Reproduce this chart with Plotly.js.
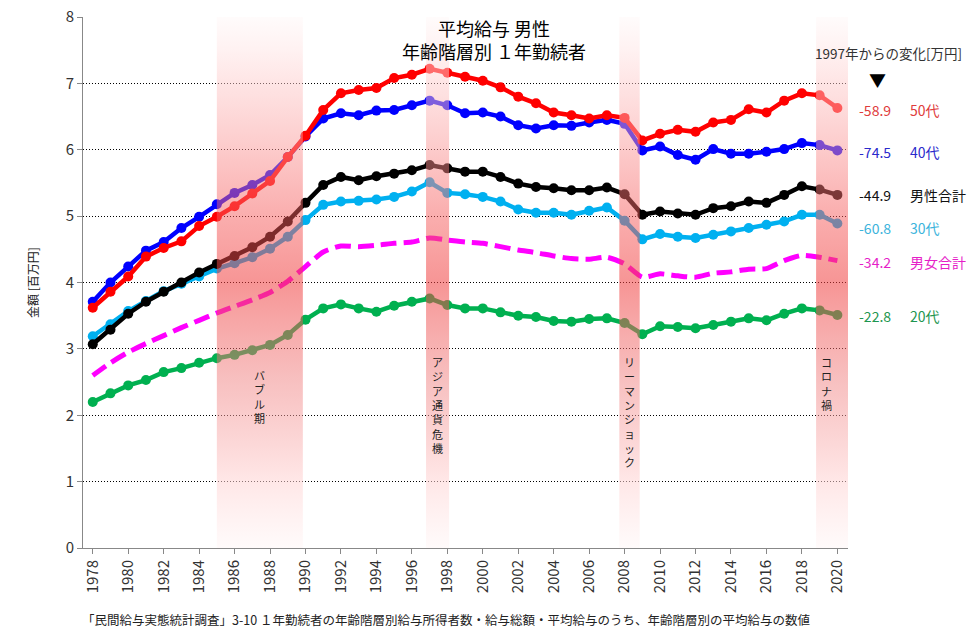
<!DOCTYPE html>
<html>
<head>
<meta charset="utf-8">
<script src="https://cdn.plot.ly/plotly-3.0.1.min.js"></script>
<style>
  html, body { margin: 0; padding: 0; background: #ffffff; }
  #chart { width: 978px; height: 639px; }
</style>
</head>
<body>
<div id="chart"></div>
<script>
// ---- data ----
const years = [1978,1979,1980,1981,1982,1983,1984,1985,1986,1987,1988,1989,1990,
  1991,1992,1993,1994,1995,1996,1997,1998,1999,2000,2001,2002,2003,2004,2005,
  2006,2007,2008,2009,2010,2011,2012,2013,2014,2015,2016,2017,2018,2019,2020];

// 金額 [百万円]
const age50 = [3.62,3.86,4.09,4.39,4.52,4.62,4.85,4.99,5.15,5.34,5.53,5.89,6.21,
  6.60,6.85,6.90,6.93,7.08,7.13,7.22,7.16,7.10,7.04,6.94,6.80,6.70,6.56,6.52,
  6.47,6.52,6.48,6.14,6.24,6.30,6.27,6.41,6.45,6.61,6.56,6.74,6.85,6.82,6.63];
const age40 = [3.71,4.00,4.24,4.48,4.61,4.82,4.99,5.18,5.35,5.47,5.62,5.89,6.20,
  6.47,6.55,6.52,6.59,6.60,6.67,6.74,6.67,6.55,6.56,6.50,6.37,6.32,6.37,6.36,
  6.41,6.45,6.39,5.99,6.05,5.92,5.85,6.01,5.94,5.94,5.97,6.01,6.10,6.07,5.99];
const maleTotal = [3.07,3.29,3.53,3.71,3.86,4.00,4.15,4.28,4.40,4.53,4.69,4.92,5.20,
  5.47,5.59,5.54,5.60,5.64,5.69,5.77,5.72,5.67,5.67,5.59,5.49,5.44,5.42,5.39,
  5.39,5.43,5.33,5.02,5.07,5.04,5.02,5.12,5.15,5.22,5.20,5.32,5.45,5.40,5.32];
const age30 = [3.19,3.37,3.57,3.72,3.87,3.98,4.09,4.21,4.29,4.38,4.51,4.69,4.94,
  5.17,5.22,5.23,5.25,5.29,5.37,5.51,5.35,5.33,5.29,5.22,5.10,5.05,5.05,5.02,
  5.08,5.13,4.93,4.65,4.73,4.69,4.67,4.72,4.77,4.82,4.87,4.92,5.02,5.02,4.89];
const allTotal = [2.60,2.79,2.95,3.08,3.20,3.32,3.43,3.54,3.64,3.74,3.85,4.02,4.24,
  4.46,4.55,4.54,4.56,4.59,4.61,4.67,4.64,4.61,4.59,4.54,4.49,4.45,4.40,4.36,
  4.35,4.38,4.28,4.08,4.13,4.10,4.08,4.14,4.16,4.20,4.21,4.33,4.41,4.38,4.33];
const age20 = [2.20,2.33,2.45,2.53,2.65,2.71,2.79,2.86,2.91,2.98,3.06,3.21,3.44,
  3.61,3.67,3.61,3.56,3.65,3.71,3.76,3.66,3.61,3.61,3.55,3.50,3.48,3.42,3.41,
  3.45,3.46,3.39,3.22,3.34,3.33,3.31,3.36,3.41,3.46,3.43,3.53,3.61,3.58,3.51];

const seriesNames   = ['50代','40代','男性合計','30代','男女合計','20代'];
const changeLabels  = ['-58.9','-74.5','-44.9','-60.8','-34.2','-22.8'];

const events     = ['バブル期','アジア通貨危機','リーマンショック','コロナ禍'];
const bandStart  = [1985, 1996.8, 2007.7, 2018.8];
const bandEnd    = [1989.85, 1998.1, 2008.85, 2020.6];

const titleText   = '平均給与 男性<br>年齢階層別 １年勤続者';
const yTitleText  = '金額 [百万円]';
const changeHead  = '1997年からの変化[万円]';
const captionText = '「民間給与実態統計調査」3-10 １年勤続者の年齢階層別給与所得者数・給与総額・平均給与のうち、年齢階層別の平均給与の数値';

// ---- styling ----
const FONT = '"Noto Sans CJK JP", "Noto Sans", sans-serif';
const seriesData   = [age50, age40, maleTotal, age30, allTotal, age20];
const lineColors   = ['rgb(255,0,0)','rgb(0,0,255)','rgb(0,0,0)','rgb(0,176,240)','rgb(255,0,255)','rgb(0,176,80)'];
const labelColors  = ['#e03c3c','#2a2acc','#111111','#3cb4dc','#e61ec8','#1e9650'];
const labelShift   = [-2, -2, 0, -5, -1, -1];
const drawOrder    = [5, 4, 3, 2, 1, 0]; // green, magenta, cyan, black, blue, red

const traces = [];
drawOrder.forEach(function (i) {
  const dashed = (i === 4);
  traces.push({
    type: 'scatter',
    x: years,
    y: seriesData[i],
    name: seriesNames[i],
    mode: dashed ? 'lines' : 'lines+markers',
    line: dashed ? { color: lineColors[i], width: 5, dash: '16px,7px', shape: 'spline', smoothing: 0.6 }
                 : { color: lineColors[i], width: 4.5 },
    marker: { color: lineColors[i], size: 10 },
    hoverinfo: 'skip',
    showlegend: false
  });
});

// shaded event bands, drawn above the lines (semi-transparent vertical gradient)
// stops given by y value (axis units); the gradient runs from the top of the band
const bandStops = [
  [8.0, 'rgba(255,246,246,0.5)'],
  [7.0, 'rgba(255,212,212,0.55)'],
  [5.5, 'rgba(240,130,130,0.5)'],
  [4.0, 'rgba(240,62,62,0.55)'],
  [3.0, 'rgba(245,92,92,0.5)'],
  [2.0, 'rgba(250,150,150,0.5)'],
  [0.5, 'rgba(255,228,228,0.5)'],
  [0.0, 'rgba(255,248,248,0.5)']
];
const bandScale = bandStops.map(function (s) { return [1 - s[0] / 8, s[1]]; });
for (let k = 0; k < events.length; k++) {
  traces.push({
    type: 'scatter',
    x: [bandStart[k], bandEnd[k], bandEnd[k], bandStart[k], bandStart[k]],
    y: [0, 0, 8, 8, 0],
    mode: 'lines',
    line: { width: 0, color: 'rgba(0,0,0,0)' },
    fill: 'toself',
    fillcolor: 'rgba(245,80,80,0.4)',
    fillgradient: { type: 'vertical', colorscale: bandScale, start: 0, stop: 8 },
    hoverinfo: 'skip',
    showlegend: false
  });
}

// ---- annotations ----
const annotations = [];
const PLOT_TOP = 17, PLOT_BOTTOM = 548, PLOT_H = PLOT_BOTTOM - PLOT_TOP;
function pyToPaper(py) { return (PLOT_BOTTOM - py) / PLOT_H; }

// vertical (tategaki) event labels: one character per line
const evX   = [(bandStart[0] + bandEnd[0]) / 2, (bandStart[1] + bandEnd[1]) / 2, (bandStart[2] + bandEnd[2]) / 2, 2019.4];
const evTop = [366, 353, 353, 353];
for (let k = 0; k < events.length; k++) {
  annotations.push({
    xref: 'x', yref: 'paper',
    x: evX[k], y: pyToPaper(evTop[k]),
    xanchor: 'center', yanchor: 'top',
    text: Array.from(events[k]).join('<br>'),
    showarrow: false, borderpad: 0,
    font: { family: FONT, size: 11, color: '#222222' }
  });
}

// right-side change labels
annotations.push({
  xref: 'paper', yref: 'paper', x: (888 - 83) / 765, y: pyToPaper(53),
  xanchor: 'center', yanchor: 'middle', text: changeHead, showarrow: false,
  font: { family: FONT, size: 13.5, color: '#333333' }
});
annotations.push({
  xref: 'paper', yref: 'paper', x: (877 - 83) / 765, y: pyToPaper(79),
  xanchor: 'center', yanchor: 'middle', text: '▼', showarrow: false,
  font: { family: FONT, size: 17, color: '#000000' }
});
for (let i = 0; i < seriesNames.length; i++) {
  const last = seriesData[i][seriesData[i].length - 1];
  annotations.push({
    xref: 'paper', yref: 'y', x: (857 - 83) / 765, y: last, yshift: labelShift[i],
    xanchor: 'left', yanchor: 'middle', text: changeLabels[i], showarrow: false,
    font: { family: FONT, size: 14, color: labelColors[i] }
  });
  annotations.push({
    xref: 'paper', yref: 'y', x: (908 - 83) / 765, y: last, yshift: labelShift[i],
    xanchor: 'left', yanchor: 'middle', text: seriesNames[i], showarrow: false,
    font: { family: FONT, size: 14, color: labelColors[i] }
  });
}

// source caption
annotations.push({
  xref: 'paper', yref: 'paper', x: (80 - 83) / 765, y: pyToPaper(619),
  xanchor: 'left', yanchor: 'middle', text: captionText, showarrow: false,
  font: { family: FONT, size: 12.5, color: '#222222' }
});

const layout = {
  width: 978, height: 639,
  margin: { l: 83, r: 130, t: PLOT_TOP, b: 639 - PLOT_BOTTOM, pad: 0 },
  paper_bgcolor: '#ffffff', plot_bgcolor: '#ffffff',
  showlegend: false,
  font: { family: FONT, color: '#333333' },
  title: {
    text: titleText,
    xref: 'paper', x: (494 - 83) / 765, xanchor: 'center',
    yref: 'container', y: 1 - 36 / 639, yanchor: 'middle',
    font: { family: FONT, size: 18, color: '#000000' }
  },
  xaxis: {
    range: [1977.45, 2020.6],
    tick0: 1978, dtick: 2,
    tickangle: -90,
    ticks: 'outside', ticklen: 5, tickcolor: '#888888',
    showline: true, linecolor: '#888888', linewidth: 1,
    showgrid: false, zeroline: false,
    tickfont: { family: FONT, size: 15, color: '#333333' }
  },
  yaxis: {
    range: [0, 8], dtick: 1,
    ticks: 'outside', ticklen: 5, tickcolor: '#888888',
    showline: true, linecolor: '#888888', linewidth: 1,
    showgrid: true, gridcolor: '#000000', gridwidth: 1, griddash: '1px,2px',
    zeroline: false,
    tickfont: { family: FONT, size: 15, color: '#333333' },
    title: { text: yTitleText, standoff: 24, font: { family: FONT, size: 12, color: '#222222' } }
  },
  annotations: annotations
};

Plotly.newPlot('chart', traces, layout, { staticPlot: true, displayModeBar: false });
</script>
</body>
</html>
